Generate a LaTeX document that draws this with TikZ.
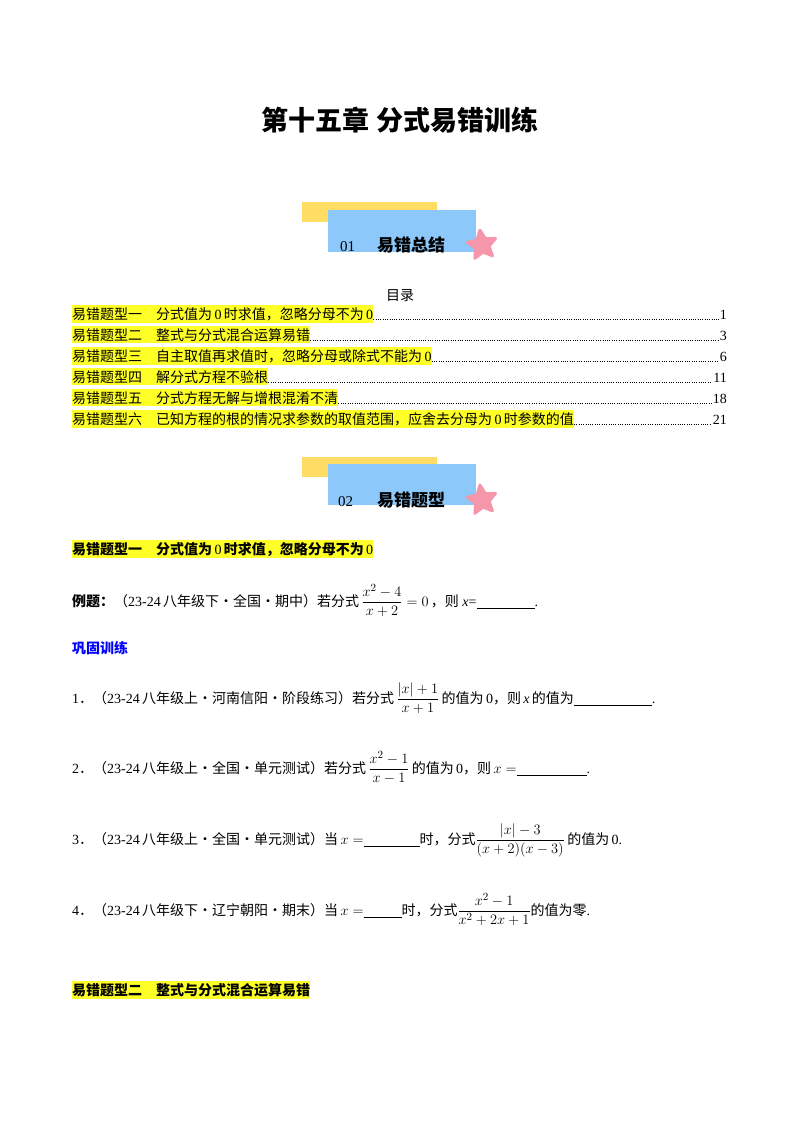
\documentclass[tikz,border=0pt]{standalone}
\usepackage{amsmath}
\usepackage{fontspec}
\setmainfont{Liberation Serif}
\newfontfamily\zh{Noto Sans CJK SC}
\newcommand\zhb{\zh\bfseries}
\usetikzlibrary{shapes.geometric}
\definecolor{hl}{RGB}{255,255,40}
\definecolor{ban}{RGB}{140,200,250}
\definecolor{yel}{RGB}{255,220,100}
\definecolor{pk}{RGB}{245,150,170}
\tikzset{
 txt/.style={anchor=base west,inner sep=0pt,font=\fontsize{14}{16}\selectfont},
 hltxt/.style={txt,fill=hl,inner ysep=2pt,inner xsep=0pt},
 pn/.style={anchor=base east,inner sep=0pt,font=\fontsize{14}{16}\selectfont},
 starshape/.style={star,star points=5,star point ratio=2.1,fill=pk,draw=pk,line join=round,line width=3pt,minimum size=30pt,inner sep=0pt,rotate=8}
}
\newcommand\bl[1]{\underline{\hspace{#1}}}
\newcommand\fr[1]{{\fontsize{15.5}{17}\selectfont$\dfrac#1$}}
\begin{document}
\begin{tikzpicture}[x=1pt,y=-1pt]
\useasboundingbox[fill=white] (0,0) rectangle (800,1132);
\node (title) at (400,120) [font=\fontsize{27}{30}\selectfont\zhb] {第十五章\ 分式易错训练};
% banner 1
\fill[yel] (302,202) rectangle (437,222);
\fill[ban] (328,210) rectangle (476,252);
\node (s1) at (482,245) [starshape] {};
\node (b1n) at (340,251) [txt,font=\fontsize{15}{16}\selectfont] {01};
\node (b1t) at (377,251) [txt,font=\fontsize{17}{18}\selectfont\zhb] {易错总结};
\node (ml) at (400,296) [font=\fontsize{14}{16}\selectfont\zh] {目录};
% TOC
\node (t1) at (72,319) [hltxt] {{\zh 易错题型一\quad 分式值为}\,0\,{\zh 时求值，忽略分母不为}\,0};
\node (t2) at (72,340) [hltxt] {{\zh 易错题型二\quad 整式与分式混合运算易错}};
\node (t3) at (72,361) [hltxt] {{\zh 易错题型三\quad 自主取值再求值时，忽略分母或除式不能为}\,0};
\node (t4) at (72,382) [hltxt] {{\zh 易错题型四\quad 解分式方程不验根}};
\node (t5) at (72,403) [hltxt] {{\zh 易错题型五\quad 分式方程无解与增根混淆不清}};
\node (t6) at (72,424) [hltxt] {{\zh 易错题型六\quad 已知方程的根的情况求参数的取值范围，应舍去分母为}\,0\,{\zh 时参数的值}};
\node (p1) at (727,319) [pn] {1};
\node (p2) at (727,340) [pn] {3};
\node (p3) at (727,361) [pn] {6};
\node (p4) at (727,382) [pn] {11};
\node (p5) at (727,403) [pn] {18};
\node (p6) at (727,424) [pn] {21};
\foreach \i in {1,...,6}{
 \draw[line width=0.7pt,dash pattern=on 0.7pt off 1.6pt] (t\i.base east) -- ([xshift=-1pt]p\i.base west);
}
% banner 2
\fill[yel] (302,457) rectangle (437,477);
\fill[ban] (328,464) rectangle (476,505);
\node (s2) at (482,500) [starshape] {};
\node (b2n) at (338,506) [txt,font=\fontsize{15}{16}\selectfont] {02};
\node (b2t) at (377,506) [txt,font=\fontsize{17}{18}\selectfont\zhb] {易错题型};
% heading 1
\node (h1) at (72,554) [hltxt] {{\zhb 易错题型一\quad 分式值为}\,0\,{\zhb 时求值，忽略分母不为}\,0};
\node (ex) at (72,606) [txt] {{\zhb 例题：}{\zh （}23-24\,{\zh 八年级下·全国·期中）若分式}\,\fr{{x^2-4}{x+2}=0}\,{\zh ，则}\ \textit{x}=\bl{58pt}.};
\node (gg) at (72,653) [txt,text=blue] {\zhb 巩固训练};
\node (q1) at (72,703) [txt] {1{\zh ．（}23-24\,{\zh 八年级上·河南信阳·阶段练习）若分式}\,\fr{{|x|+1}{x+1}}\,{\zh 的值为}\,0{\zh ，则}\,\textit{x}\,{\zh 的值为}\bl{78pt}.};
\node (q2) at (72,773) [txt] {2{\zh ．（}23-24\,{\zh 八年级上·全国·单元测试）若分式}\,\fr{{x^2-1}{x-1}}\,{\zh 的值为}\,0{\zh ，则}\,$x=$\bl{70pt}.};
\node (q3) at (72,844) [txt] {3{\zh ．（}23-24\,{\zh 八年级上·全国·单元测试）当}\,$x=$\bl{56pt}{\zh 时，分式}\fr{{|x|-3}{(x+2)(x-3)}}\,{\zh 的值为}\,0.};
\node (q4) at (72,915) [txt] {4{\zh ．（}23-24\,{\zh 八年级下·辽宁朝阳·期末）当}\,$x=$\bl{38pt}{\zh 时，分式}\fr{{x^2-1}{x^2+2x+1}}{\zh 的值为零}.};
\node (h2) at (72,995) [hltxt] {\zhb 易错题型二\quad 整式与分式混合运算易错};
\end{tikzpicture}
\end{document}
